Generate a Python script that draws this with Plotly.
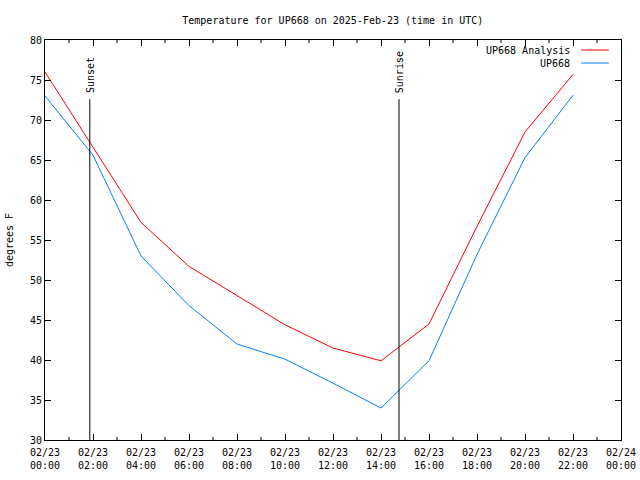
import plotly.graph_objects as go

times = ["2025-02-23 00:00", "2025-02-23 02:00", "2025-02-23 04:00", "2025-02-23 06:00",
         "2025-02-23 08:00", "2025-02-23 10:00", "2025-02-23 12:00", "2025-02-23 14:00",
         "2025-02-23 16:00", "2025-02-23 18:00", "2025-02-23 20:00", "2025-02-23 22:00"]
analysis = [76.0, 66.6, 57.2, 51.7, 48.1, 44.4, 41.5, 39.9, 44.5, 56.7, 68.5, 75.7]
observed = [73.0, 65.6, 53.0, 46.8, 42.0, 40.1, 37.1, 34.0, 39.9, 53.2, 65.3, 73.1]

tick_vals = ["2025-02-23 %02d:00" % h for h in range(0, 24, 2)] + ["2025-02-24 00:00"]
tick_text = ["02/23<br>%02d:00" % h for h in range(0, 24, 2)] + ["02/24<br>00:00"]
minor_vals = ["2025-02-23 %02d:00" % h for h in range(1, 24, 2)]

sunset = "2025-02-23 01:52"
sunrise = "2025-02-23 14:45"
event_top = 72.6

font = "DejaVu Sans Mono"
fig = go.Figure()
fig.add_trace(go.Scatter(x=times, y=analysis, mode="lines", name="UP668 Analysis",
                         line=dict(color="#ff0000", width=1), hoverinfo="skip"))
fig.add_trace(go.Scatter(x=times, y=observed, mode="lines", name="UP668",
                         line=dict(color="#0080ff", width=1), hoverinfo="skip"))

for t, label in [(sunset, "Sunset"), (sunrise, "Sunrise")]:
    fig.add_shape(type="line", x0=t, x1=t, y0=30, y1=event_top, xref="x", yref="y",
                  line=dict(color="black", width=1))
    fig.add_annotation(x=t, y=event_top, xref="x", yref="y", text=label, textangle=-90,
                       showarrow=False, yanchor="bottom", xanchor="center", yshift=4,
                       font=dict(family=font, size=10, color="black"))

# minor ticks (hourly) drawn inward on bottom and top
for t in minor_vals:
    for y0, y1 in [(0, 0.0075), (1, 0.9925)]:
        fig.add_shape(type="line", x0=t, x1=t, y0=y0, y1=y1, xref="x", yref="paper",
                      line=dict(color="black", width=1))

# legend drawn gnuplot-style
leg = [("UP668 Analysis", "#ff0000", 0.975), ("UP668", "#0080ff", 0.9425)]
for name, col, yp in leg:
    fig.add_annotation(x=0.915, y=yp, xref="paper", yref="paper", text=name, showarrow=False,
                       xanchor="right", yanchor="middle", font=dict(family=font, size=10, color="black"))
    fig.add_shape(type="line", x0=0.9306, x1=0.979, y0=yp, y1=yp, xref="paper", yref="paper",
                  line=dict(color=col, width=1))

fig.update_layout(
    width=640, height=480,
    margin=dict(l=45, r=19, t=40, b=40, autoexpand=False),
    paper_bgcolor="white", plot_bgcolor="white",
    showlegend=False, hovermode=False,
    font=dict(family=font, size=10, color="black"),
    title=dict(text="Temperature for UP668 on 2025-Feb-23 (time in UTC)", x=0.52, xanchor="center",
               y=0.958, yanchor="middle", automargin=False,
               font=dict(family=font, size=10, color="black")),
)
fig.update_xaxes(type="date", range=["2025-02-23 00:00", "2025-02-24 00:00"], automargin=False,
                 tickvals=tick_vals, ticktext=tick_text, ticks="inside", ticklen=6,
                 ticklabelstandoff=3,
                 tickcolor="black", showgrid=False, zeroline=False, showline=True,
                 linecolor="black", linewidth=1, mirror="ticks", tickangle=0,
                 tickfont=dict(family=font, size=10, color="black"))
fig.update_yaxes(range=[30, 80], tickvals=list(range(30, 81, 5)), ticks="inside", ticklen=6,
                 automargin=False,
                 tickcolor="black", showgrid=False, zeroline=False, showline=True,
                 linecolor="black", linewidth=1, mirror="ticks",
                 title=dict(text="degrees F", font=dict(family=font, size=10, color="black"), standoff=14),
                 tickfont=dict(family=font, size=10, color="black"))

fig.write_html("out.html", config={"displayModeBar": False, "staticPlot": True},
               post_script="document.body.style.margin='0';document.body.style.overflow='hidden';")
